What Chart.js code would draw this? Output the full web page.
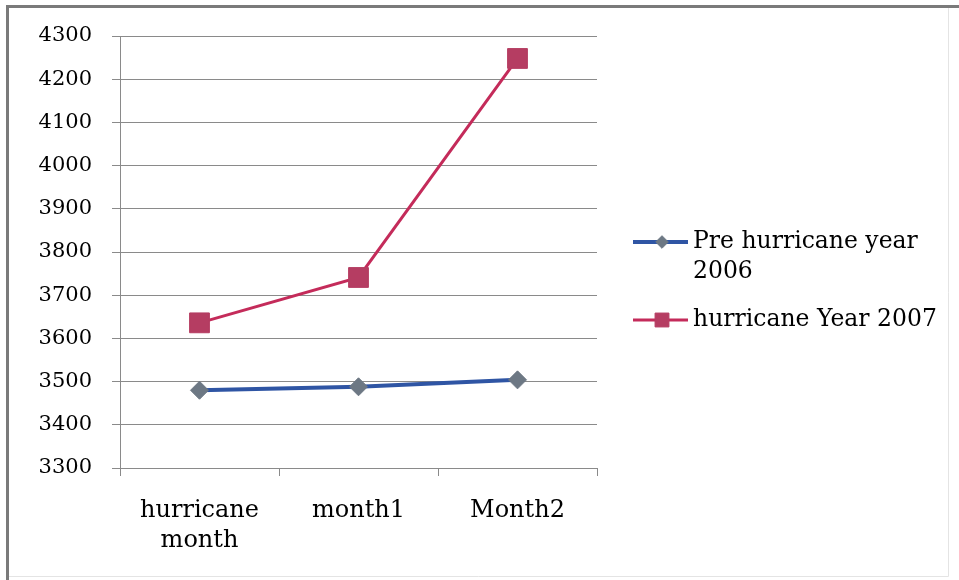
<!DOCTYPE html>
<html>
<head>
<meta charset="utf-8">
<title>Hurricane months comparison</title>
<script src="https://cdn.jsdelivr.net/npm/chart.js@4.4.1/dist/chart.umd.min.js"></script>
<style>
  html, body { margin: 0; padding: 0; background: #ffffff; }
  #wrap { position: relative; width: 959px; height: 580px; }
  canvas { display: block; }
</style>
</head>
<body>
<div id="wrap"><canvas id="chart" width="959" height="580"></canvas></div>
<script>
// Month labels along the x axis (first one is split over two lines)
const categories = [['hurricane', 'month'], 'month1', 'Month2'];

// Series values
const preHurricane2006 = [3480, 3488, 3504];
const hurricane2007 = [3636, 3741, 4248];

// Legend text (first entry wraps onto two lines)
const seriesNames = [['Pre hurricane year', '2006'], ['hurricane Year 2007']];

// Value axis range
const yMin = 3300;
const yMax = 4300;
const yStep = 100;

const SERIF = '"DejaVu Serif", "Liberation Serif", serif';
const BLUE = '#2f55a4';
const BLUE_MARK = '#6d7884';
const RED = '#c42b5a';
const RED_MARK = '#b53d62';
const TEXT = '#000000';

// Frame around the chart and a legend drawn beside the plot
const framePlugin = {
  id: 'frameAndLegend',
  beforeDraw(chart) {
    const ctx = chart.ctx;
    ctx.save();
    ctx.fillStyle = '#ffffff';
    ctx.fillRect(0, 0, chart.width, chart.height);
    ctx.restore();
  },
  afterDraw(chart) {
    const ctx = chart.ctx;
    ctx.save();
    // outer frame
    ctx.strokeStyle = '#7a7a7a';
    ctx.lineWidth = 3;
    ctx.beginPath();
    ctx.moveTo(7.5, chart.height);
    ctx.lineTo(7.5, 6.5);
    ctx.lineTo(chart.width, 6.5);
    ctx.stroke();
    ctx.strokeStyle = '#e4e4e4';
    ctx.lineWidth = 1;
    ctx.beginPath();
    ctx.moveTo(948.5, 8);
    ctx.lineTo(948.5, 576.5);
    ctx.lineTo(9, 576.5);
    ctx.stroke();

    // legend
    const items = [
      { ds: chart.data.datasets[0], y: 242 },
      { ds: chart.data.datasets[1], y: 320 }
    ];
    ctx.font = '23.5px ' + SERIF;
    ctx.textBaseline = 'middle';
    ctx.textAlign = 'left';
    items.forEach((it, i) => {
      const ds = it.ds;
      ctx.strokeStyle = ds.borderColor;
      ctx.lineWidth = ds.borderWidth;
      ctx.beginPath();
      ctx.moveTo(633, it.y);
      ctx.lineTo(688, it.y);
      ctx.stroke();
      ctx.fillStyle = ds.pointBackgroundColor;
      ctx.strokeStyle = ds.pointBorderColor;
      ctx.lineWidth = 1;
      Chart.helpers.drawPoint(ctx, {
        pointStyle: ds.pointStyle,
        radius: ds.pointRadius * 0.7,
        borderWidth: 1
      }, 662, it.y);
      ctx.fillStyle = TEXT;
      seriesNames[i].forEach((line, k) => {
        ctx.fillText(line, 693, it.y + k * 30);
      });
    });
    ctx.restore();
  }
};

new Chart(document.getElementById('chart'), {
  type: 'line',
  data: {
    labels: categories,
    datasets: [
      {
        label: seriesNames[0].join(' '),
        data: preHurricane2006,
        borderColor: BLUE,
        borderWidth: 4,
        pointStyle: 'rectRot',
        pointRadius: 9,
        pointBackgroundColor: BLUE_MARK,
        pointBorderColor: BLUE_MARK,
        pointBorderWidth: 1,
        tension: 0
      },
      {
        label: seriesNames[1].join(' '),
        data: hurricane2007,
        borderColor: RED,
        borderWidth: 3,
        pointStyle: 'rect',
        pointRadius: 14,
        pointBackgroundColor: RED_MARK,
        pointBorderColor: RED_MARK,
        pointBorderWidth: 1,
        tension: 0
      }
    ]
  },
  options: {
    responsive: false,
    animation: false,
    devicePixelRatio: 1,
    layout: { padding: { left: 0, top: 36, right: 362, bottom: 0 } },
    plugins: {
      legend: { display: false },
      tooltip: { enabled: false }
    },
    scales: {
      x: {
        type: 'category',
        offset: true,
        afterFit(scale) { scale.height = 112; },
        grid: {
          offset: true,
          drawOnChartArea: false,
          drawTicks: true,
          tickLength: 8,
          color: '#8a8a8a',
          lineWidth: 1
        },
        border: { color: '#8a8a8a', width: 1 },
        ticks: {
          color: TEXT,
          padding: 20,
          maxRotation: 0,
          autoSkip: false,
          font: { family: SERIF, size: 24, lineHeight: 1.25 }
        }
      },
      y: {
        min: yMin,
        max: yMax,
        afterFit(scale) { scale.width = 120; },
        grid: {
          color: '#8a8a8a',
          lineWidth: 1,
          drawTicks: true,
          tickLength: 8
        },
        border: { color: '#8a8a8a', width: 1 },
        ticks: {
          stepSize: yStep,
          color: TEXT,
          padding: 20,
          font: { family: SERIF, size: 21 },
          callback: (v) => String(v)
        }
      }
    }
  },
  plugins: [framePlugin]
});
</script>
</body>
</html>
